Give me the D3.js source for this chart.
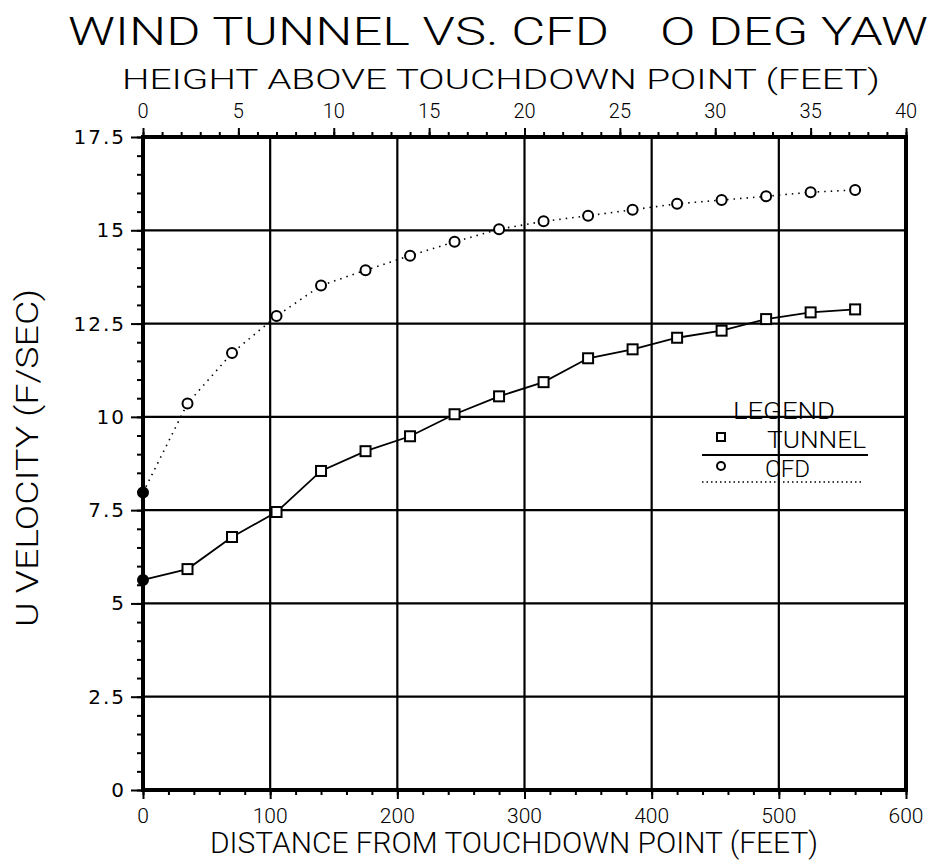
<!DOCTYPE html>
<html><head><meta charset="utf-8">
<script src="https://cdn.jsdelivr.net/npm/d3@7"></script>
<style>
body{margin:0;background:#fff;}
svg text{font-family:Roboto,"DejaVu Sans",sans-serif;font-weight:300;fill:#000;white-space:pre;}
</style></head><body>
<svg id="c" width="931" height="865"></svg>
<script>
const distance = [0,35,70,105,140,175,210,245,280,315,350,385,420,455,490,525,560];
const tunnel = [5.63,5.92,6.78,7.45,8.55,9.08,9.48,10.07,10.55,10.93,11.57,11.81,12.12,12.31,12.62,12.80,12.88];
const cfd = [7.97,10.36,11.71,12.70,13.52,13.93,14.32,14.69,15.03,15.24,15.39,15.55,15.71,15.81,15.91,16.02,16.08];
const xTicks = [0,100,200,300,400,500,600];
const xTopTicks = [0,5,10,15,20,25,30,35,40];
const yTicks = [0,2.5,5,7.5,10,12.5,15,17.5];
const yTickLabels = ["0","2.5","5","7.5","10","12.5","15","17.5"];

const svg = d3.select("#c");
const L=143,R=906,T=137,B=790;
const x = d3.scaleLinear([0,600],[L,R]);
const xTop = d3.scaleLinear([0,40],[L,R]);
const y = d3.scaleLinear([0,17.5],[B,T]);

// grid
svg.append("g").selectAll("line").data(yTicks.slice(1,-1)).join("line")
  .attr("x1",L).attr("x2",R).attr("y1",d=>y(d)).attr("y2",d=>y(d))
  .attr("stroke","#000").attr("stroke-width",2.2);
svg.append("g").selectAll("line").data(xTicks.slice(1,-1)).join("line")
  .attr("y1",T).attr("y2",B).attr("x1",d=>x(d)).attr("x2",d=>x(d))
  .attr("stroke","#000").attr("stroke-width",2.2);

function styleAxis(g){g.select(".domain").remove();g.selectAll("line").attr("stroke","#000").attr("stroke-width",2);g.selectAll("text").remove();}

// bottom axis
svg.append("g").attr("transform",`translate(0,${B})`)
  .call(d3.axisBottom(x).tickValues(d3.range(0,601,20)).tickSize(5)).call(styleAxis);
svg.append("g").attr("transform",`translate(0,${B})`)
  .call(d3.axisBottom(x).tickValues(xTicks).tickSize(9)).call(styleAxis);
// top axis
svg.append("g").attr("transform",`translate(0,${T})`)
  .call(d3.axisTop(xTop).tickValues(d3.range(0,41,1)).tickSize(5)).call(styleAxis);
svg.append("g").attr("transform",`translate(0,${T})`)
  .call(d3.axisTop(xTop).tickValues(xTopTicks).tickSize(9)).call(styleAxis);
// left axis
svg.append("g").attr("transform",`translate(${L},0)`)
  .call(d3.axisLeft(y).tickValues(d3.range(0,17.51,0.5)).tickSize(6)).call(styleAxis);
svg.append("g").attr("transform",`translate(${L},0)`)
  .call(d3.axisLeft(y).tickValues(yTicks).tickSize(12)).call(styleAxis);

// frame
svg.append("rect").attr("x",L).attr("y",T).attr("width",R-L).attr("height",B-T)
  .attr("fill","none").attr("stroke","#000").attr("stroke-width",4);

// tick labels
svg.append("g").selectAll("text").data(xTicks).join("text")
  .attr("x",d=>x(d)).attr("y",823).attr("text-anchor","middle")
  .attr("font-size",21).attr("font-weight",400).text(d=>d);
svg.append("g").selectAll("text").data(xTopTicks).join("text")
  .attr("x",d=>xTop(d)).attr("y",118).attr("text-anchor","middle")
  .attr("font-size",20).attr("font-weight",400).text(d=>d);
svg.append("g").selectAll("text").data(yTicks).join("text")
  .attr("x",126).attr("y",d=>y(d)+7).attr("text-anchor","end")
  .attr("font-size",20).attr("letter-spacing",2)
  .style("font-family","'DejaVu Sans',sans-serif").style("font-weight",400)
  .text((d,i)=>yTickLabels[i]);

// titles
svg.append("text").attr("x",68).attr("y",45).attr("font-size",39)
  .attr("textLength",860).attr("lengthAdjust","spacingAndGlyphs")
  .text("WIND TUNNEL VS. CFD    O DEG YAW");
svg.append("text").attr("x",122).attr("y",89).attr("font-size",28)
  .attr("textLength",758).attr("lengthAdjust","spacingAndGlyphs")
  .text("HEIGHT ABOVE TOUCHDOWN POINT (FEET)");
svg.append("text").attr("x",210).attr("y",853).attr("font-size",29)
  .attr("textLength",608).attr("lengthAdjust","spacingAndGlyphs")
  .text("DISTANCE FROM TOUCHDOWN POINT (FEET)");
svg.append("text").attr("transform","translate(38,627) rotate(-90)")
  .attr("font-size",32).attr("textLength",338).attr("lengthAdjust","spacingAndGlyphs")
  .text("U VELOCITY (F/SEC)");

// lines
const lineGen = d3.line().x(d=>x(d[0])).y(d=>y(d[1]));
const tData = distance.map((d,i)=>[d,tunnel[i]]);
const cData = distance.map((d,i)=>[d,cfd[i]]);
svg.append("path").attr("d",lineGen(cData)).attr("fill","none").attr("stroke","#000")
  .attr("stroke-width",1.6).attr("stroke-dasharray","1.5,5");
svg.append("path").attr("d",lineGen(tData)).attr("fill","none").attr("stroke","#000")
  .attr("stroke-width",1.8);

// markers
svg.append("g").selectAll("rect").data(tData).join("rect")
  .attr("x",d=>x(d[0])-5).attr("y",d=>y(d[1])-5).attr("width",10).attr("height",10)
  .attr("fill",(d,i)=>i===0?"#000":"#fff").attr("stroke","#000").attr("stroke-width",2)
  .attr("rx",(d,i)=>i===0?5:0);
svg.append("g").selectAll("circle").data(cData).join("circle")
  .attr("cx",d=>x(d[0])).attr("cy",d=>y(d[1])).attr("r",5)
  .attr("fill",(d,i)=>i===0?"#000":"#fff").attr("stroke","#000").attr("stroke-width",2);

// legend
const lg = svg.append("g");
lg.append("text").attr("x",733).attr("y",419).attr("font-size",24)
  .attr("textLength",102).attr("lengthAdjust","spacingAndGlyphs").text("LEGEND");
lg.append("rect").attr("x",717).attr("y",433).attr("width",8).attr("height",8)
  .attr("fill","#fff").attr("stroke","#000").attr("stroke-width",2);
lg.append("text").attr("x",767).attr("y",448).attr("font-size",24)
  .attr("textLength",99).attr("lengthAdjust","spacingAndGlyphs").text("TUNNEL");
lg.append("line").attr("x1",702).attr("x2",868).attr("y1",455).attr("y2",455)
  .attr("stroke","#000").attr("stroke-width",1.8);
lg.append("circle").attr("cx",721).attr("cy",466).attr("r",4)
  .attr("fill","#fff").attr("stroke","#000").attr("stroke-width",2);
lg.append("text").attr("x",765).attr("y",477).attr("font-size",24)
  .attr("textLength",45).attr("lengthAdjust","spacingAndGlyphs").text("CFD");
lg.append("line").attr("x1",702).attr("x2",862).attr("y1",482).attr("y2",482)
  .attr("stroke","#000").attr("stroke-width",1.4).attr("stroke-dasharray","1.5,3");
</script></body></html>
